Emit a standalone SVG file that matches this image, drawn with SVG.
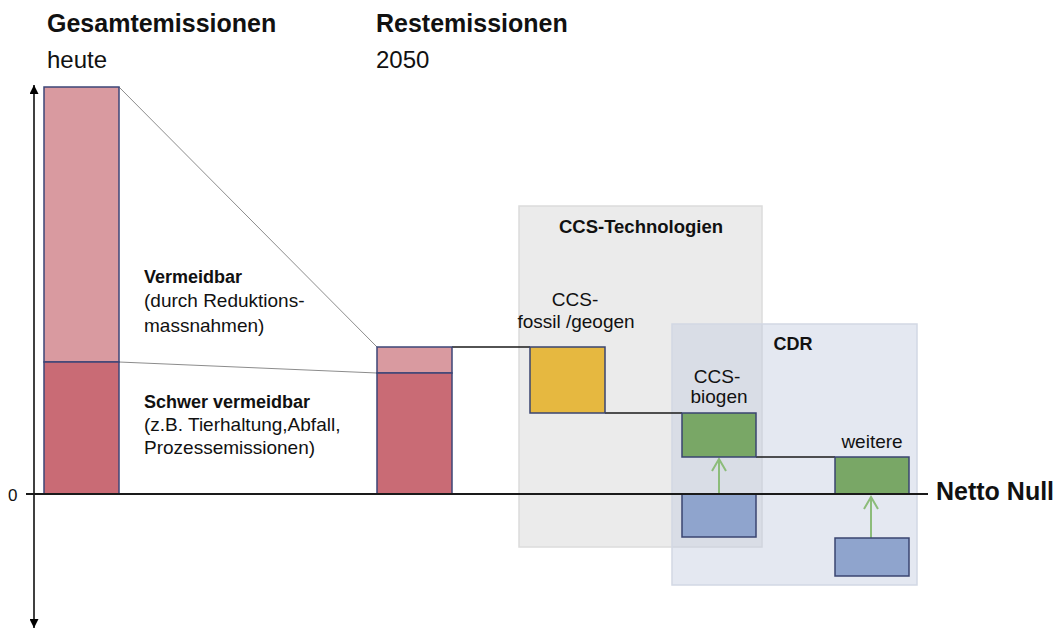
<svg xmlns="http://www.w3.org/2000/svg" width="1064" height="629" viewBox="0 0 1064 629">
<style>
text{font-family:"Liberation Sans",Arial,sans-serif;fill:#111}
.h{font-size:25px;font-weight:bold}
.h2{font-size:24px}
.b{font-size:18px;font-weight:bold}
.r{font-size:19px}
.m{text-anchor:middle}
.bar{stroke:#3c4577;stroke-width:1.5}
.lp{fill:#d99aa0}
.dp{fill:#c96b75}
.box{stroke:#3a4470;stroke-width:1.5}
.conn{stroke:#1a1a1a;stroke-width:1.5;fill:none}
.thin{stroke:#8c8c8c;stroke-width:1;fill:none}
.garr{stroke:#8cbc7a;stroke-width:2;fill:none}
</style>
<defs>
<marker id="tri" viewBox="0 0 10 10" refX="10" refY="5" markerWidth="10" markerHeight="9" markerUnits="userSpaceOnUse" orient="auto">
<path d="M0,0 L10,5 L0,10 Z" fill="#000"/>
</marker>
</defs>
<rect width="1064" height="629" fill="#fff"/>

<g id="panel-ccs">
<rect x="519" y="206" width="243" height="341" fill="#ebebeb" stroke="#dcdcdc" stroke-width="1.5"/>
<text class="b m" x="641" y="233" style="font-size:18.5px">CCS-Technologien</text>
</g>
<g id="panel-cdr">
<rect x="672" y="324" width="245" height="261" fill="#c3cce0" fill-opacity="0.45" stroke="#d2d8e4" stroke-width="1.5"/>
<text class="b m" x="793" y="350">CDR</text>
</g>

<g id="headings">
<text class="h" x="47" y="32">Gesamtemissionen</text>
<text class="h2" x="47" y="68">heute</text>
<text class="h" x="376" y="32">Restemissionen</text>
<text class="h2" x="376" y="68">2050</text>
</g>

<g id="labels">
<text class="b" x="144" y="283">Vermeidbar</text>
<text class="r" x="144" y="307">(durch Reduktions-</text>
<text class="r" x="144" y="332">massnahmen)</text>
<text class="b" x="144" y="408">Schwer vermeidbar</text>
<text class="r" x="144" y="431">(z.B. Tierhaltung,Abfall,</text>
<text class="r" x="144" y="454">Prozessemissionen)</text>
</g>

<g id="connectors">
<line class="thin" x1="119" y1="87" x2="377" y2="347"/>
<line class="thin" x1="119" y1="362" x2="377" y2="373"/>
<line class="conn" x1="452" y1="347" x2="530" y2="347"/>
<line class="conn" x1="605" y1="413" x2="682" y2="413"/>
<line class="conn" x1="756" y1="457" x2="835" y2="457"/>
<path class="garr" d="M719,494 V459 M712,471 L719,459 L726,471"/>
<path class="garr" d="M871,538 V497 M864,509 L871,497 L878,509"/>
</g>

<g id="bar-heute">
<rect class="bar lp" x="44" y="87" width="75" height="275"/>
<rect class="bar dp" x="44" y="362" width="75" height="132"/>
</g>
<g id="bar-2050">
<rect class="bar lp" x="377" y="347" width="75" height="26"/>
<rect class="bar dp" x="377" y="373" width="75" height="121"/>
</g>

<g id="node-ccs-fossil">
<text class="r m" x="575" y="306">CCS-</text>
<text class="r m" x="576" y="328">fossil /geogen</text>
<rect class="box" x="530" y="347" width="75" height="66" fill="#e6b840"/>
</g>
<g id="node-ccs-biogen">
<text class="r m" x="717" y="383">CCS-</text>
<text class="r m" x="719" y="403">biogen</text>
<rect class="box" x="682" y="413" width="74" height="44" fill="#79a766"/>
<rect class="box" x="682" y="494" width="74" height="43" fill="#8fa4cd"/>
</g>
<g id="node-weitere">
<text class="r m" x="872" y="448">weitere</text>
<rect class="box" x="835" y="457" width="74" height="37" fill="#79a766"/>
<rect class="box" x="835" y="538" width="74" height="38" fill="#8fa4cd"/>
</g>

<g id="axes">
<line x1="34" y1="494" x2="34" y2="85" stroke="#000" stroke-width="1.5" marker-end="url(#tri)"/>
<line x1="34" y1="494" x2="34" y2="628" stroke="#000" stroke-width="1.5" marker-end="url(#tri)"/>
<line x1="26" y1="494" x2="928" y2="494" stroke="#1a1a1a" stroke-width="2"/>
<text x="8" y="501" style="font-size:17px">0</text>
<text x="936" y="500" style="font-size:25px;font-weight:bold">Netto Null</text>
</g>
</svg>
